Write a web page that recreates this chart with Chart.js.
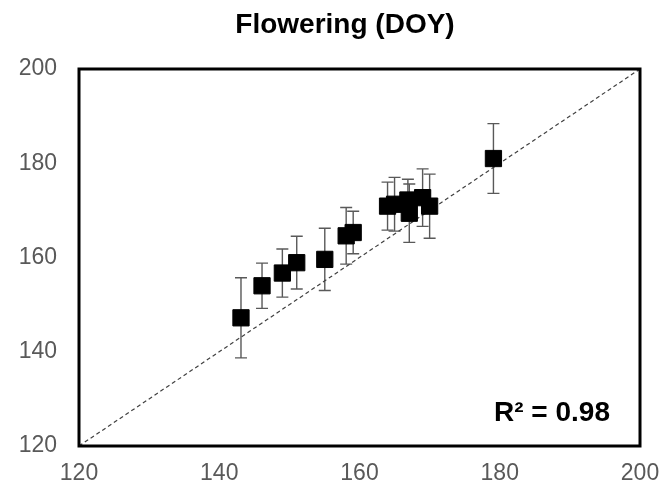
<!DOCTYPE html>
<html><head><meta charset="utf-8">
<script src="https://cdn.jsdelivr.net/npm/chart.js@4"></script>
<style>html,body{margin:0;padding:0;background:#fff}#wrap{width:662px;height:485px}</style>
</head><body><div id="wrap"><canvas id="c" width="662" height="485"></canvas></div>
<script>
const observedDOY  = [143.1, 146.1, 149.0, 151.05, 155.05, 158.1, 159.1, 164.0, 165.0, 166.9, 167.1, 169.0, 170.0, 179.1];
const simulatedDOY = [147.2, 154.0, 156.7, 158.9, 159.6, 164.6, 165.3, 170.9, 171.3, 172.2, 169.4, 172.7, 170.9, 181.0];
const errorDOY     = [8.5, 4.8, 5.1, 5.6, 6.6, 6.0, 4.5, 5.1, 5.7, 4.4, 6.2, 6.1, 6.8, 7.4];
const axisTicks    = [120, 140, 160, 180, 200];
const oneToOne     = [120, 200];
const titleText = 'Flowering (DOY)';
const r2Text = 'R\u00B2 = 0.98';

const FONT = "'Liberation Sans', Arial, sans-serif";

const points = observedDOY.map((x, i) => ({x: x, y: simulatedDOY[i]}));

const errorBars = {
  id: 'errorBars',
  beforeDatasetsDraw(chart) {
    const xs = chart.scales.x, ys = chart.scales.y, ctx = chart.ctx;
    ctx.save();
    ctx.strokeStyle = '#595959';
    ctx.lineWidth = 1.4;
    observedDOY.forEach((xv, i) => {
      const px = xs.getPixelForValue(xv);
      const t = ys.getPixelForValue(simulatedDOY[i] + errorDOY[i]);
      const b = ys.getPixelForValue(simulatedDOY[i] - errorDOY[i]);
      ctx.beginPath();
      ctx.moveTo(px, t); ctx.lineTo(px, b);
      ctx.moveTo(px - 6, t); ctx.lineTo(px + 6, t);
      ctx.moveTo(px - 6, b); ctx.lineTo(px + 6, b);
      ctx.stroke();
    });
    ctx.restore();
  }
};

const decor = {
  id: 'decor',
  afterDraw(chart) {
    const ca = chart.chartArea, ctx = chart.ctx;
    ctx.save();
    ctx.strokeStyle = '#000';
    ctx.lineWidth = 3;
    ctx.strokeRect(ca.left, ca.top, ca.right - ca.left, ca.bottom - ca.top);
    ctx.fillStyle = '#000';
    ctx.font = 'bold 28px ' + FONT;
    ctx.textAlign = 'center';
    ctx.textBaseline = 'alphabetic';
    ctx.fillText(titleText, 345, 33);
    ctx.font = 'bold 28px ' + FONT;
    ctx.textAlign = 'right';
    ctx.fillText(r2Text, ca.right - 30, ca.bottom - 25);
    ctx.restore();
  }
};

new Chart(document.getElementById('c'), {
  type: 'scatter',
  data: {
    datasets: [
      {
        type: 'line',
        data: oneToOne.map(v => ({x: v, y: v})),
        borderColor: '#404040',
        borderWidth: 1.2,
        borderDash: [4, 3],
        pointRadius: 0,
        fill: false,
        order: 2
      },
      {
        data: points,
        pointStyle: 'rect',
        pointRadius: 11.5,
        pointHoverRadius: 11.5,
        backgroundColor: '#000',
        borderColor: '#000',
        borderWidth: 1,
        order: 1
      }
    ]
  },
  options: {
    responsive: false,
    animation: false,
    events: [],
    layout: {padding: {top: 69, right: 22, left: 0, bottom: 0}},
    plugins: {legend: {display: false}, tooltip: {enabled: false}, title: {display: false}},
    scales: {
      x: {
        type: 'linear', min: axisTicks[0], max: axisTicks[axisTicks.length - 1],
        afterBuildTicks: s => { s.ticks = axisTicks.map(v => ({value: v})); },
        afterFit: s => { s.height = 39; s.paddingLeft = 0; s.paddingRight = 0; },
        grid: {display: false, drawTicks: false},
        border: {display: false},
        ticks: {color: '#595959', font: {family: FONT, size: 23}, padding: 14, maxRotation: 0}
      },
      y: {
        type: 'linear', min: axisTicks[0], max: axisTicks[axisTicks.length - 1],
        afterBuildTicks: s => { s.ticks = axisTicks.map(v => ({value: v})); },
        afterFit: s => { s.width = 79; s.paddingTop = 0; s.paddingBottom = 0; },
        grid: {display: false, drawTicks: false},
        border: {display: false},
        ticks: {color: '#595959', font: {family: FONT, size: 23}, padding: 22}
      }
    }
  },
  plugins: [errorBars, decor]
});
</script>
</body></html>
